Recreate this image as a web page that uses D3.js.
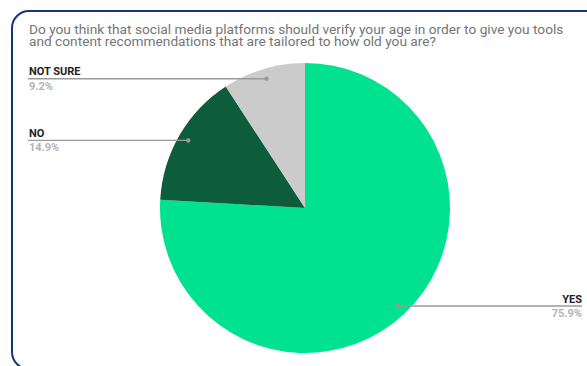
<!DOCTYPE html>
<html>
<head>
<meta charset="utf-8">
<script src="https://cdn.jsdelivr.net/npm/d3@7"></script>
<style>
  body { margin: 0; background: #fff; }
  svg { display: block; font-family: Roboto, "Noto Sans", sans-serif; }
</style>
</head>
<body>
<svg width="587" height="366"></svg>
<script>
var categories = ["YES", "NO", "NOT SURE"];
var values = [75.9, 14.9, 9.2];
var colors = ["#00e28f", "#0d5c3c", "#cbcbcb"];
var titleLines = [
	"Do you think that social media platforms should verify your age in order to give you tools",
	"and content recommendations that are tailored to how old you are?"
];

var svg = d3.select("svg");

// frame
svg.append("rect")
	.attr("x", 12).attr("y", 11)
	.attr("width", 590).attr("height", 358)
	.attr("rx", 17)
	.attr("fill", "none")
	.attr("stroke", "#16347a")
	.attr("stroke-width", 2);

// title
svg.selectAll(".title")
	.data(titleLines)
	.enter()
	.append("text")
	.attr("class", "title")
	.attr("x", 29)
	.attr("y", function (d, i) { return 34 + i * 12; })
	.attr("fill", "#757575")
	.attr("font-size", "13.7px")
	.text(function (d) { return d; });

var cx = 305, cy = 208, r = 145;
var g = svg.append("g").attr("transform", "translate(" + cx + "," + cy + ")");

var data = categories.map(function (c, i) { return { name: c, value: values[i], color: colors[i] }; });

var pie = d3.pie().sort(null).value(function (d) { return d.value; });
var arc = d3.arc().innerRadius(0).outerRadius(r);
var arcs = pie(data);

g.selectAll("path")
	.data(arcs)
	.enter()
	.append("path")
	.attr("d", arc)
	.attr("fill", function (d) { return d.data.color; });

// leader lines + labels
var dotR = r * 0.93;
arcs.forEach(function (d) {
	var a = (d.startAngle + d.endAngle) / 2;
	var px = cx + Math.sin(a) * dotR;
	var py = cy - Math.cos(a) * dotR;
	var right = px > cx;
	var x2 = right ? 582 : 28;
	svg.append("line")
		.attr("x1", px).attr("y1", py)
		.attr("x2", x2).attr("y2", py)
		.attr("stroke", "#9a9a9a")
		.attr("stroke-width", 1.3);
	svg.append("circle")
		.attr("cx", px).attr("cy", py)
		.attr("r", 2.2)
		.attr("fill", "#9a9a9a");
	svg.append("text")
		.attr("x", x2 + (right ? 0 : 1))
		.attr("y", py - 3.5)
		.attr("text-anchor", right ? "end" : "start")
		.attr("font-size", "11px")
		.attr("font-weight", "bold")
		.attr("fill", "#222")
		.text(d.data.name);
	svg.append("text")
		.attr("x", x2 + (right ? 0 : 1))
		.attr("y", py + 11)
		.attr("text-anchor", right ? "end" : "start")
		.attr("font-size", "11px")
		.attr("font-weight", "bold")
		.attr("fill", "#b3b3b3")
		.text(d3.format(".1f")(d.data.value) + "%");
});
</script>
</body>
</html>
